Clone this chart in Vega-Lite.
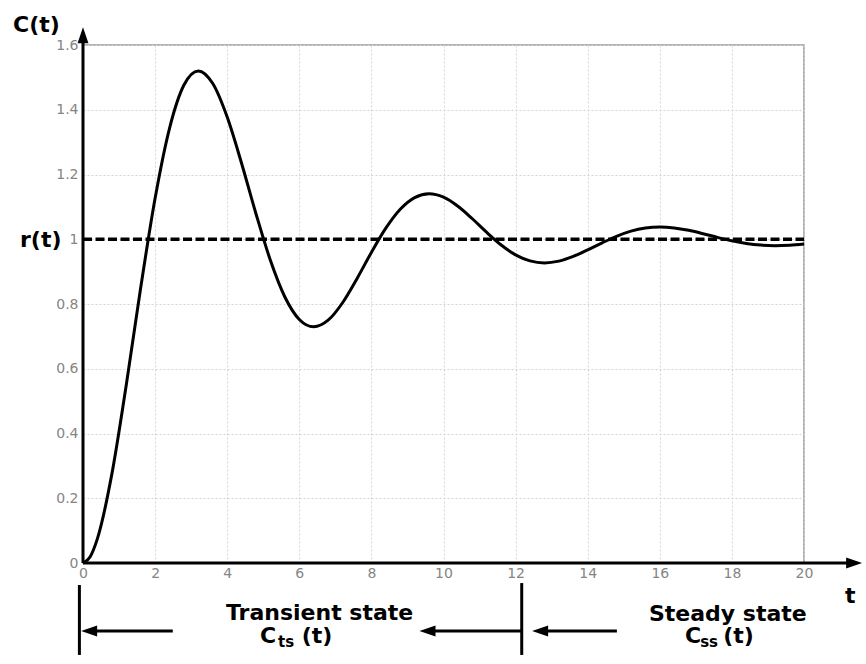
{
  "$schema": "https://vega.github.io/schema/vega-lite/v6.json",
  "width": 721,
  "height": 518,
  "autosize": {"type": "none"},
  "padding": {"left": 83, "top": 45, "right": 62, "bottom": 101},
  "background": "white",
  "config": {
    "view": {"stroke": "#9a9a9a", "strokeWidth": 1.5}
  },
  "datasets": {
    "curve": [
      {"t": 0, "v": 0}, {"t": 0.2, "v": 0.0195}, {"t": 0.4, "v": 0.0752}, {"t": 0.8, "v": 0.2745},
      {"t": 1.2, "v": 0.55}, {"t": 1.6, "v": 0.8499}, {"t": 2.0, "v": 1.1265}, {"t": 2.4, "v": 1.3428},
      {"t": 2.8, "v": 1.4764}, {"t": 3.2, "v": 1.52}, {"t": 3.6, "v": 1.4809}, {"t": 4.0, "v": 1.3773},
      {"t": 4.4, "v": 1.234}, {"t": 4.8, "v": 1.0781}, {"t": 5.2, "v": 0.9343}, {"t": 5.6, "v": 0.8217},
      {"t": 6.0, "v": 0.7523}, {"t": 6.4, "v": 0.7296}, {"t": 6.8, "v": 0.7499}, {"t": 7.2, "v": 0.8039},
      {"t": 7.6, "v": 0.8783}, {"t": 8.0, "v": 0.9594}, {"t": 8.4, "v": 1.0342}, {"t": 8.8, "v": 1.0927},
      {"t": 9.2, "v": 1.1288}, {"t": 9.6, "v": 1.1406}, {"t": 10.0, "v": 1.1301}, {"t": 10.4, "v": 1.102},
      {"t": 10.8, "v": 1.0633}, {"t": 11.2, "v": 1.0211}, {"t": 11.6, "v": 0.9822}, {"t": 12.0, "v": 0.9518},
      {"t": 12.4, "v": 0.9331}, {"t": 12.8, "v": 0.9269}, {"t": 13.2, "v": 0.9324}, {"t": 13.6, "v": 0.9469},
      {"t": 14.0, "v": 0.9671}, {"t": 14.4, "v": 0.989}, {"t": 14.8, "v": 1.0092}, {"t": 15.2, "v": 1.0251},
      {"t": 15.6, "v": 1.0348}, {"t": 16.0, "v": 1.038}, {"t": 16.4, "v": 1.0351}, {"t": 16.8, "v": 1.0276},
      {"t": 17.2, "v": 1.0171}, {"t": 17.6, "v": 1.0057}, {"t": 18.0, "v": 0.9952}, {"t": 18.4, "v": 0.987},
      {"t": 18.8, "v": 0.9819}, {"t": 19.2, "v": 0.9802}, {"t": 19.6, "v": 0.9817}, {"t": 20.0, "v": 0.9856}
    ],
    "reference": [{"t": 0, "t2": 20, "v": 1}],
    "lines": [
      {"t": 0, "t2": 0, "v": 0, "v2": 1.63},
      {"t": 0, "t2": 21.39, "v": 0, "v2": 0},
      {"t": -0.1, "t2": -0.1, "v": -0.068, "v2": -0.284},
      {"t": 12.17, "t2": 12.17, "v": -0.062, "v2": -0.284},
      {"t": 0.17, "t2": 2.49, "v": -0.21, "v2": -0.21},
      {"t": 9.556, "t2": 12.15, "v": -0.21, "v2": -0.21},
      {"t": 12.68, "t2": 14.81, "v": -0.21, "v2": -0.21}
    ],
    "heads": [
      {"t": 0, "v": 1.63, "dir": "up"},
      {"t": 21.39, "v": 0, "dir": "right"},
      {"t": 0.17, "v": -0.21, "dir": "left"},
      {"t": 9.556, "v": -0.21, "dir": "left"},
      {"t": 12.68, "v": -0.21, "dir": "left"}
    ],
    "bigText": [
      {"t": -1.942, "v": 1.639, "label": "C(t)"},
      {"t": -1.748, "v": 0.977, "label": "r(t)"},
      {"t": 21.14, "v": -0.1235, "label": "t"},
      {"t": 3.967, "v": -0.176, "label": "Transient state"},
      {"t": 4.91, "v": -0.248, "label": "C"},
      {"t": 6.067, "v": -0.248, "label": "(t)"},
      {"t": 15.7, "v": -0.178, "label": "Steady state"},
      {"t": 16.7, "v": -0.248, "label": "C"},
      {"t": 17.76, "v": -0.248, "label": "(t)"}
    ],
    "subText": [
      {"t": 5.41, "v": -0.258, "label": "ts"},
      {"t": 17.12, "v": -0.258, "label": "ss"}
    ]
  },
  "encoding": {
    "x": {
      "field": "t",
      "type": "quantitative",
      "scale": {"domain": [0, 20], "nice": false, "zero": false},
      "axis": {
        "values": [0, 2, 4, 6, 8, 10, 12, 14, 16, 18, 20],
        "format": "~g",
        "title": null,
        "domain": false,
        "ticks": false,
        "grid": true,
        "gridColor": "#d4d4d4",
        "gridDash": [2, 2],
        "gridWidth": 1,
        "labelFont": "DejaVu Sans",
        "labelFontSize": 14,
        "labelColor": "#858585",
        "labelPadding": 3,
        "labelFlush": false
      }
    },
    "y": {
      "field": "v",
      "type": "quantitative",
      "scale": {"domain": [0, 1.6], "nice": false, "zero": false},
      "axis": {
        "values": [0, 0.2, 0.4, 0.6, 0.8, 1, 1.2, 1.4, 1.6],
        "format": "~g",
        "title": null,
        "domain": false,
        "ticks": false,
        "grid": true,
        "gridColor": "#d4d4d4",
        "gridDash": [2, 2],
        "gridWidth": 1,
        "labelFont": "DejaVu Sans",
        "labelFontSize": 14,
        "labelColor": "#858585",
        "labelPadding": 5,
        "labelFlush": false
      }
    }
  },
  "layer": [
    {
      "data": {"name": "curve"},
      "mark": {"type": "line", "color": "black", "strokeWidth": 3, "interpolate": "monotone"}
    },
    {
      "data": {"name": "reference"},
      "mark": {"type": "rule", "color": "black", "strokeWidth": 3.5, "strokeDash": [9, 3.5]},
      "encoding": {"x2": {"field": "t2"}}
    },
    {
      "data": {"name": "lines"},
      "mark": {"type": "rule", "color": "black", "strokeWidth": 3},
      "encoding": {"x2": {"field": "t2"}, "y2": {"field": "v2"}}
    },
    {
      "data": {"name": "heads"},
      "mark": {"type": "point", "filled": true, "color": "black", "opacity": 1, "strokeWidth": 0, "size": 1024},
      "encoding": {
        "shape": {
          "field": "dir",
          "type": "nominal",
          "scale": {
            "domain": ["up", "right", "left"],
            "range": ["M0,-0.5L0.34,0.5L-0.34,0.5Z", "M0.5,0L-0.5,-0.34L-0.5,0.34Z", "M-0.5,0L0.5,-0.34L0.5,0.34Z"]
          },
          "legend": null
        }
      }
    },
    {
      "data": {"name": "bigText"},
      "mark": {"type": "text", "font": "DejaVu Sans", "fontWeight": "bold", "fontSize": 22, "align": "left", "baseline": "alphabetic", "color": "black"},
      "encoding": {"text": {"field": "label"}}
    },
    {
      "data": {"name": "subText"},
      "mark": {"type": "text", "font": "DejaVu Sans", "fontWeight": "bold", "fontSize": 15, "align": "left", "baseline": "alphabetic", "color": "black"},
      "encoding": {"text": {"field": "label"}}
    }
  ]
}
